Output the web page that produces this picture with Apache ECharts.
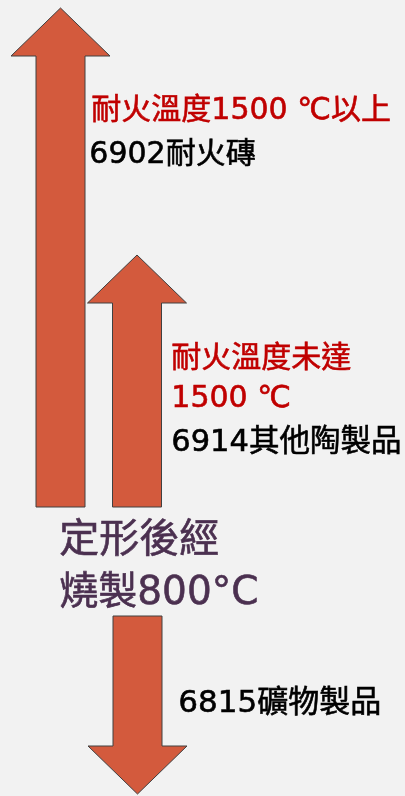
<!DOCTYPE html>
<html>
<head>
<meta charset="utf-8">
<script src="https://cdn.jsdelivr.net/npm/echarts@6/dist/echarts.min.js"></script>
<style>
html,body{margin:0;padding:0;background:#f2f2f2;}
#c{width:405px;height:796px;}
</style>
</head>
<body>
<div id="c"></div>
<script>
// Arrows: centre position (x units), start level and end level (y units, top = 0)
const arrowNames = ['6902耐火磚', '6914其他陶製品', '6815礦物製品'];
const arrowX = [60.5, 137, 137.5];
const arrowStart = [507, 507, 616];
const arrowEnd = [8, 255, 794];

// Annotation text
const topRed = '耐火溫度1500 ℃以上';
const midRed1 = '耐火溫度未達';
const midRed2 = '1500 ℃';
const centerLine1 = '定形後經';
const centerLine2 = '燒製800°C';

const FONT = '"DejaVu Sans", "Noto Sans CJK TC", sans-serif';

const chart = echarts.init(document.getElementById('c'), null, {renderer: 'canvas'});

const data = arrowNames.map((n, i) => [arrowX[i], arrowStart[i], arrowEnd[i], n]);

function txt(x, y, text, color, size) {
  return {
    type: 'text', left: x, top: y - size * 0.4,
    style: {
      text: text, fill: color, stroke: color, lineWidth: 0.6,
      font: 'normal ' + size + 'px ' + FONT
    }
  };
}

chart.setOption({
  backgroundColor: '#f2f2f2',
  animation: false,
  grid: {left: 0, right: 0, top: 0, bottom: 0},
  xAxis: {type: 'value', min: 0, max: 405, show: false},
  yAxis: {type: 'value', min: 0, max: 796, inverse: true, show: false},
  series: [{
    type: 'custom',
    data: data,
    renderItem: function (params, api) {
      const p0 = api.coord([api.value(0), api.value(1)]);
      const p1 = api.coord([api.value(0), api.value(2)]);
      const dir = p1[1] < p0[1] ? -1 : 1;
      const sw = 24.5, hw = 49.5, hl = 48;
      const cx = p0[0];
      const baseY = p1[1] - dir * hl;
      const pts = [
        [cx - sw, p0[1]], [cx - sw, baseY], [cx - hw, baseY],
        [cx, p1[1]], [cx + hw, baseY], [cx + sw, baseY], [cx + sw, p0[1]]
      ];
      return {
        type: 'polygon',
        shape: {points: pts},
        style: {fill: '#d35a3d', stroke: '#404040', lineWidth: 1}
      };
    }
  }],
  graphic: [
    txt(91, 108, topRed, '#c00000', 30),
    txt(89, 152, arrowNames[0], '#000000', 30),
    txt(171, 356, midRed1, '#c00000', 30),
    txt(171, 396, midRed2, '#c00000', 30),
    txt(171, 440, arrowNames[1], '#000000', 30.5),
    txt(59, 537, centerLine1, '#4b3050', 40),
    txt(59, 590, centerLine2, '#4b3050', 39),
    txt(178, 701, arrowNames[2], '#000000', 31)
  ]
});
</script>
</body>
</html>
